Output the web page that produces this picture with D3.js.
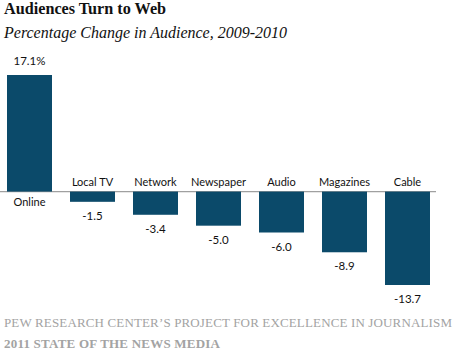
<!DOCTYPE html>
<html><head><meta charset="utf-8">
<script src="https://cdn.jsdelivr.net/npm/d3@7"></script>
<style>body{margin:0;background:#fff}svg{display:block}</style>
</head><body><svg id="c" width="454" height="360"></svg>
<script>
const categories = ["Online","Local TV","Network","Newspaper","Audio","Magazines","Cable"];
const values = [17.1,-1.5,-3.4,-5.0,-6.0,-8.9,-13.7];
const valueLabels = ["17.1%","-1.5","-3.4","-5.0","-6.0","-8.9","-13.7"];

const svg = d3.select("#c");
const x = d3.scaleBand().domain(categories).range([7,430]).paddingInner(0.2857).paddingOuter(0);
const y = d3.scaleLinear().domain([-13.7,17.1]).range([285,75]);
const barColor = "#0b4a6a";

svg.append("text").attr("x",4).attr("y",14).attr("font-family","Liberation Serif, Times New Roman, serif")
  .attr("font-weight","bold").attr("font-size",16.2).attr("fill","#111").text("Audiences Turn to Web");
svg.append("text").attr("x",4).attr("y",38).attr("font-family","Liberation Serif, Times New Roman, serif")
  .attr("font-style","italic").attr("font-size",16).attr("fill","#111").text("Percentage Change in Audience, 2009-2010");

svg.append("line").attr("x1",0).attr("x2",436).attr("y1",y(0)).attr("y2",y(0))
  .attr("stroke","#a0a0a0").attr("stroke-width",1.2);

svg.selectAll("rect.bar").data(values).join("rect").attr("class","bar")
  .attr("x",(d,i)=>x(categories[i])).attr("width",x.bandwidth())
  .attr("y",d=>y(Math.max(0,d))).attr("height",d=>Math.abs(y(d)-y(0)))
  .attr("fill",barColor);

const font = "Lato, Open Sans, sans-serif";
svg.selectAll("text.cat").data(categories).join("text").attr("class","cat")
  .attr("x",d=>x(d)+x.bandwidth()/2)
  .attr("y",(d,i)=>values[i]>=0 ? y(0)+14 : y(0)-6)
  .attr("text-anchor","middle").attr("font-family",font).attr("font-size",11).attr("fill","#111").text(d=>d);

svg.selectAll("text.val").data(values).join("text").attr("class","val")
  .attr("x",(d,i)=>x(categories[i])+x.bandwidth()/2)
  .attr("y",d=>d>=0 ? y(d)-10 : y(d)+18)
  .attr("text-anchor","middle").attr("font-family",font).attr("font-size",11.5).attr("fill","#111")
  .text((d,i)=>valueLabels[i]);

svg.append("text").attr("x",4).attr("y",327).attr("font-family","Liberation Serif, Times New Roman, serif")
  .attr("font-size",13).attr("fill","#a3a3a3").attr("textLength",448).attr("lengthAdjust","spacing")
  .text("PEW RESEARCH CENTER\u2019S PROJECT FOR EXCELLENCE IN JOURNALISM");
svg.append("text").attr("x",4).attr("y",348).attr("font-family","Liberation Serif, Times New Roman, serif")
  .attr("font-size",13).attr("font-weight","bold").attr("fill","#a3a3a3").attr("textLength",216).attr("lengthAdjust","spacing")
  .text("2011 STATE OF THE NEWS MEDIA");
</script></body></html>
